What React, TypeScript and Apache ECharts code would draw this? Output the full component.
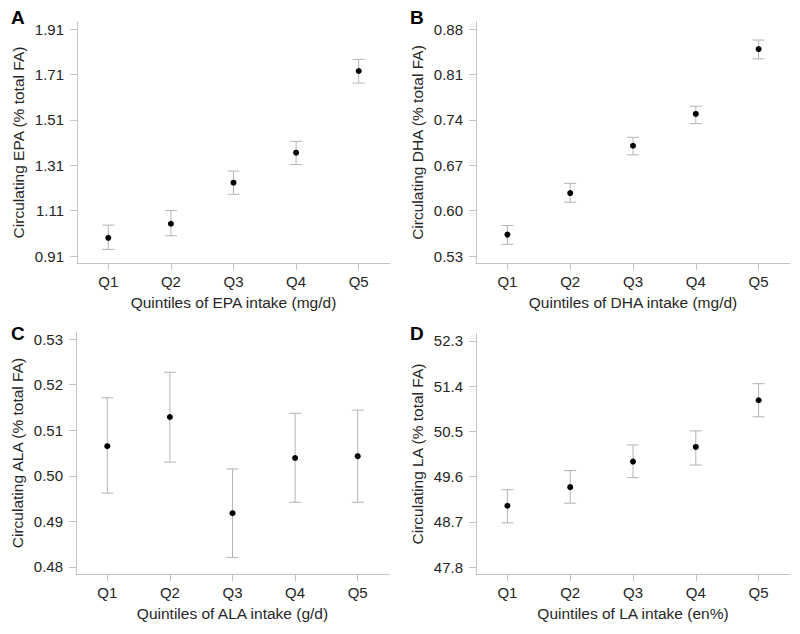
import React, { useEffect, useRef } from "react";
import * as echarts from "echarts";

const quintiles = ["Q1", "Q2", "Q3", "Q4", "Q5"];

const epaMean = [0.99, 1.052, 1.233, 1.365, 1.725];
const epaLower = [0.939, 0.999, 1.182, 1.313, 1.672];
const epaUpper = [1.046, 1.11, 1.284, 1.415, 1.776];
const epaTicks = [0.91, 1.11, 1.31, 1.51, 1.71, 1.91];

const dhaMean = [0.563, 0.627, 0.7, 0.749, 0.849];
const dhaLower = [0.548, 0.613, 0.686, 0.734, 0.834];
const dhaUpper = [0.577, 0.642, 0.713, 0.761, 0.863];
const dhaTicks = [0.53, 0.6, 0.67, 0.74, 0.81, 0.88];

const alaMean = [0.5065, 0.5129, 0.4918, 0.5039, 0.5043];
const alaLower = [0.4962, 0.503, 0.4821, 0.4942, 0.4942];
const alaUpper = [0.5171, 0.5227, 0.5015, 0.5137, 0.5144];
const alaTicks = [0.48, 0.49, 0.5, 0.51, 0.52, 0.53];

const laMean = [49.02, 49.39, 49.9, 50.19, 51.12];
const laLower = [48.68, 49.07, 49.58, 49.83, 50.79];
const laUpper = [49.34, 49.72, 50.23, 50.51, 51.45];
const laTicks = [47.8, 48.7, 49.6, 50.5, 51.4, 52.3];

const FONT = "'Liberation Sans', Arial, sans-serif";
const TEXT = "#262626";
const AXIS = "#c4c4c4";
const BAR = "#b4b4b4";

const panels = [
  {
    letter: "A", lx: 11, ly: 8,
    grid: { left: 77, top: 22, width: 313, height: 241 },
    mean: epaMean, lower: epaLower, upper: epaUpper, ticks: epaTicks, dec: 2,
    yName: "Circulating EPA (% total FA)", xName: "Quintiles of EPA intake (mg/d)",
  },
  {
    letter: "B", lx: 410, ly: 8,
    grid: { left: 476, top: 22, width: 314, height: 241 },
    mean: dhaMean, lower: dhaLower, upper: dhaUpper, ticks: dhaTicks, dec: 2,
    yName: "Circulating DHA (% total FA)", xName: "Quintiles of DHA intake (mg/d)",
  },
  {
    letter: "C", lx: 11, ly: 324,
    grid: { left: 76, top: 332, width: 313, height: 242 },
    mean: alaMean, lower: alaLower, upper: alaUpper, ticks: alaTicks, dec: 2,
    yName: "Circulating ALA (% total FA)", xName: "Quintiles of ALA intake (g/d)",
  },
  {
    letter: "D", lx: 410, ly: 324,
    grid: { left: 476, top: 334, width: 314, height: 240 },
    mean: laMean, lower: laLower, upper: laUpper, ticks: laTicks, dec: 1,
    yName: "Circulating LA (% total FA)", xName: "Quintiles of LA intake (en%)",
  },
];

function buildOption() {
  const grid: any[] = [];
  const xAxis: any[] = [];
  const yAxis: any[] = [];
  const series: any[] = [];
  const graphic: any[] = [];

  panels.forEach((p, k) => {
    const t0 = p.ticks[0];
    const tN = p.ticks[p.ticks.length - 1];
    const span = tN - t0;
    const padFrac = 7 / 227;
    grid.push({ ...p.grid, containLabel: false });
    xAxis.push({
      type: "category",
      gridIndex: k,
      data: quintiles,
      boundaryGap: true,
      name: p.xName,
      nameLocation: "middle",
      nameGap: 31,
      nameTextStyle: { fontFamily: FONT, fontSize: 15.5, color: TEXT },
      axisLine: { show: true, lineStyle: { color: AXIS, width: 1 } },
      axisTick: { show: true, alignWithLabel: true, length: 7, lineStyle: { color: AXIS } },
      axisLabel: { fontFamily: FONT, fontSize: 15, color: TEXT, margin: 11 },
      splitLine: { show: false },
    });
    yAxis.push({
      type: "value",
      gridIndex: k,
      min: t0 - padFrac * span,
      max: tN + padFrac * span,
      name: p.yName,
      nameLocation: "middle",
      nameGap: 51,
      nameTextStyle: { fontFamily: FONT, fontSize: 15.5, color: TEXT },
      axisLine: { show: true, lineStyle: { color: AXIS, width: 1 } },
      axisTick: { show: true, length: 7, customValues: p.ticks, lineStyle: { color: AXIS } },
      axisLabel: {
        fontFamily: FONT, fontSize: 15, color: TEXT, margin: 13,
        customValues: p.ticks,
        formatter: (v: number) => v.toFixed(p.dec),
      },
      splitLine: { show: false },
    });
    series.push({
      type: "custom",
      xAxisIndex: k,
      yAxisIndex: k,
      data: quintiles.map((_, i) => [i, p.lower[i], p.upper[i]]),
      encode: { x: 0, y: [1, 2] },
      renderItem: (params: any, api: any) => {
        const x = api.value(0);
        const lo = api.coord([x, api.value(1)]);
        const hi = api.coord([x, api.value(2)]);
        const w = 6;
        const style = { stroke: BAR, lineWidth: 1 };
        return {
          type: "group",
          children: [
            { type: "line", shape: { x1: lo[0], y1: lo[1], x2: hi[0], y2: hi[1] }, style },
            { type: "line", shape: { x1: lo[0] - w, y1: lo[1], x2: lo[0] + w, y2: lo[1] }, style },
            { type: "line", shape: { x1: hi[0] - w, y1: hi[1], x2: hi[0] + w, y2: hi[1] }, style },
          ],
        };
      },
      z: 2,
    });
    series.push({
      type: "scatter",
      xAxisIndex: k,
      yAxisIndex: k,
      data: quintiles.map((_, i) => [i, p.mean[i]]),
      symbol: "circle",
      symbolSize: 6,
      itemStyle: { color: "#000000", opacity: 1 },
      z: 3,
    });
    graphic.push({
      type: "text",
      left: p.lx,
      top: p.ly,
      style: {
        text: p.letter,
        font: `bold 19px ${FONT}`,
        fill: "#000000",
      },
    });
  });

  return {
    animation: false,
    backgroundColor: "#ffffff",
    grid,
    xAxis,
    yAxis,
    series,
    graphic,
  };
}

export default function App() {
  const ref = useRef<HTMLDivElement>(null);
  useEffect(() => {
    document.body.style.margin = "0";
    if (!ref.current) return;
    const chart = echarts.init(ref.current, undefined, { renderer: "svg" });
    chart.setOption(buildOption() as any);
    return () => {
      chart.dispose();
    };
  }, []);
  return <div ref={ref} style={{ width: 800, height: 634 }} />;
}
